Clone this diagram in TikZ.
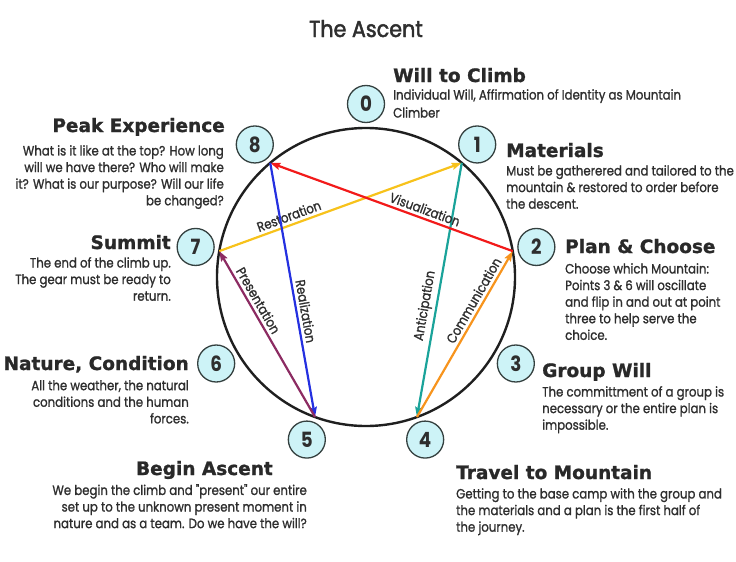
\documentclass[tikz,border=0pt]{standalone}
\usepackage{fontspec}
\setmainfont{Poppins}[FakeStretch=0.87]
\newfontfamily\headfont{DejaVu Sans}[FakeBold=1.2]
\newfontfamily\bodyfont{Poppins}[FakeStretch=0.87,FakeBold=1.2]
\newfontfamily\titlefont{Poppins}[FakeStretch=0.9,FakeBold=2]
\usetikzlibrary{calc,arrows.meta}
\definecolor{ink}{HTML}{2E2E2E}
\definecolor{ringfill}{HTML}{CDF3F7}
\definecolor{ringdraw}{HTML}{34403F}
\definecolor{lnred}{HTML}{F21A1A}
\definecolor{lnyellow}{HTML}{F7C21B}
\definecolor{lnblue}{HTML}{2430E0}
\definecolor{lnpurple}{HTML}{8C2B62}
\definecolor{lnteal}{HTML}{1AA39A}
\definecolor{lnorange}{HTML}{F7941D}
\tikzset{
  num/.style={circle,draw=ringdraw,line width=1.3pt,fill=ringfill,minimum size=37pt,inner sep=0pt,
    font=\fontsize{21}{21}\selectfont\bfseries,text=ink},
  head/.style={inner sep=0pt,text=ink!90!black,font=\headfont\bfseries\fontsize{18.5}{20}\selectfont},
  body/.style={inner sep=0pt,text=ink,font=\bodyfont\fontsize{13.5}{16.6}\selectfont},
  lbl/.style={inner sep=0pt,text=ink,font=\bodyfont\fontsize{13.5}{14}\selectfont},
  conn/.style={line width=2.2pt,-{Stealth[length=10pt,width=7pt,inset=1.5pt]}}
}
\begin{document}
\begin{tikzpicture}[x=1pt,y=-1pt]
\useasboundingbox (0,0) rectangle (736,562);
\coordinate (c) at (366,277);

% title
\node[inner sep=0pt,anchor=base,text=ink,font=\titlefont\fontsize{23}{23}\selectfont] (title) at (366,37) {The Ascent};

% ring and the nine points
\draw[line width=2.4pt,black!88] (c) circle (149pt);
\foreach \k in {0,...,8}{
  \path (c) ++(\k*40-90:149) coordinate (p\k);
  \node[num] (n\k) at ($(c)+(\k*40-90:173)$) {\k};
}

% inner lines
\draw[conn,lnyellow] (p7) -- node[lbl,pos=.3,sloped,above=3pt] {Restoration} (p1);
\draw[conn,lnteal] (p1) -- node[lbl,pos=.57,sloped,above=3pt] {Anticipation} (p4);
\draw[conn,lnorange] (p4) -- node[lbl,pos=.675,sloped,above=3pt] {Communication} (p2);
\draw[conn,lnred] (p2) -- node[lbl,pos=.375,sloped,above=3pt] {Visualization} (p8);
\draw[conn,lnblue] (p8) -- node[lbl,pos=.59,sloped,above=3pt] {Realization} (p5);
\draw[conn,lnpurple] (p5) -- node[lbl,pos=.675,sloped,above=3pt] {Presentation} (p7);

% right side texts
\node[head,anchor=base west] (h0) at (393,82) {Will to Climb};
\node[body,anchor=north west,align=left,font=\bodyfont\fontsize{13.5}{18}\selectfont] (t0) at (393,89)
  {Individual Will, Affirmation of Identity as Mountain\\Climber};
\node[head,anchor=base west] (h1) at (506,157) {Materials};
\node[body,anchor=north west,align=left] (t1) at (506,165)
  {Must be gatherered and tailored to the\\mountain \& restored to order before\\the descent.};
\node[head,anchor=base west] (h2) at (565,253) {Plan \& Choose};
\node[body,anchor=north west,align=left] (t2) at (565,263)
  {Choose which Mountain:\\Points 3 \& 6 will oscillate\\and flip in and out at point\\three to help serve the\\choice.};
\node[head,anchor=base west] (h3) at (542,377) {Group Will};
\node[body,anchor=north west,align=left] (t3) at (542,386)
  {The committment of a group is\\necessary or the entire plan is\\impossible.};
\node[head,anchor=base west] (h4) at (456,479) {Travel to Mountain};
\node[body,anchor=north west,align=left] (t4) at (456,488)
  {Getting to the base camp with the group and\\the materials and a plan is the first half of\\the journey.};

% left side texts
\node[head,anchor=base east] (h5) at (273,475) {Begin Ascent};
\node[body,anchor=north east,align=right] (t5) at (307,484)
  {We begin the climb and "present" our entire\\set up to the unknown present moment in\\nature and as a team. Do we have the will?};
\node[head,anchor=base east] (h6) at (189,370) {Nature, Condition};
\node[body,anchor=north east,align=right] (t6) at (189,380)
  {All the weather, the natural\\conditions and the human\\forces.};
\node[head,anchor=base east] (h7) at (171,249) {Summit};
\node[body,anchor=north east,align=right] (t7) at (171,257)
  {The end of the climb up.\\The gear must be ready to\\return.};
\node[head,anchor=base east] (h8) at (225,132) {Peak Experience};
\node[body,anchor=north east,align=right] (t8) at (224,145)
  {What is it like at the top? How long\\will we have there? Who will make\\it? What is our purpose? Will our life\\be changed?};
\end{tikzpicture}
\end{document}
